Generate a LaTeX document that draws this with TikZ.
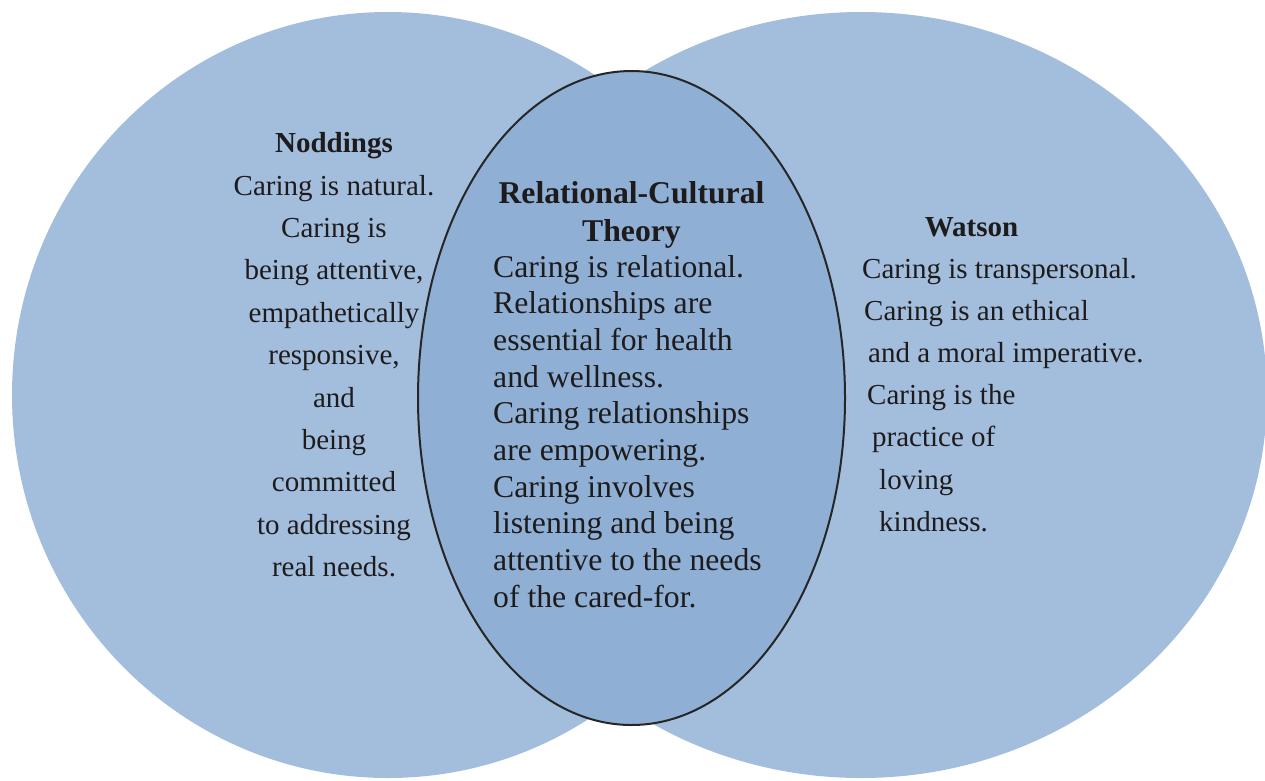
\documentclass[tikz,border=0pt]{standalone}
\usepackage{fontspec}
\setmainfont{Liberation Serif}
\definecolor{circfill}{HTML}{A3BEDD}
\definecolor{ovalfill}{HTML}{8FB0D4}
\definecolor{ovalline}{HTML}{262626}
\definecolor{inkcol}{HTML}{1E1B1C}
\begin{document}
\begin{tikzpicture}[x=1pt,y=-1pt,
  sidehead/.style={inner sep=0pt, text=inkcol, font=\fontsize{29}{29}\selectfont\bfseries},
  sidetext/.style={inner sep=0pt, text=inkcol, font=\fontsize{29}{29}\selectfont},
  midhead/.style={inner sep=0pt, text=inkcol, font=\fontsize{31.7}{31.7}\selectfont\bfseries},
  midtext/.style={inner sep=0pt, text=inkcol, font=\fontsize{31.7}{31.7}\selectfont}]
\useasboundingbox (0,0) rectangle (1265,780);

% the two outer circles and the central oval
\fill[circfill] (388,395) ellipse [x radius=376pt, y radius=383pt];
\fill[circfill] (861,395) ellipse [x radius=406pt, y radius=383pt];
\draw[ovalline, line width=2pt, fill=ovalfill] (631.5,398) ellipse [x radius=213.5pt, y radius=327pt];

% left circle: Noddings
\node[sidehead, anchor=base] (nodtitle) at (334,152) {Noddings};
\foreach \txt [count=\k from 0] in {{Caring is natural.},{Caring is},{being attentive,},{empathetically},{responsive,},{and},{being},{committed},{to addressing},{real needs.}}
  \node[sidetext, anchor=base] (nod\k) at (334,195+42.4*\k) {\txt};

% right circle: Watson
\node[sidehead, anchor=base] (wattitle) at (971.5,236) {Watson};
\foreach \xx/\txt [count=\k from 0] in {862/{Caring is transpersonal.},864/{Caring is an ethical},868/{and a moral imperative.},867/{Caring is the},872/{practice of},879/{loving},879/{kindness.}}
  \node[sidetext, anchor=base west] (wat\k) at (\xx,278+42.2*\k) {\txt};

% central oval: Relational-Cultural Theory
\node[midhead, anchor=base] (rcttitle1) at (631.5,203) {Relational-Cultural};
\node[midhead, anchor=base] (rcttitle2) at (631.5,241) {Theory};
\foreach \txt [count=\k from 0] in {{Caring is relational.},{Relationships are},{essential for health},{and wellness.},{Caring relationships},{are empowering.},{Caring involves},{listening and being},{attentive to the needs},{of the cared-for.}}
  \node[midtext, anchor=base west] (rct\k) at (493,277+36.7*\k) {\txt};
\end{tikzpicture}
\end{document}
